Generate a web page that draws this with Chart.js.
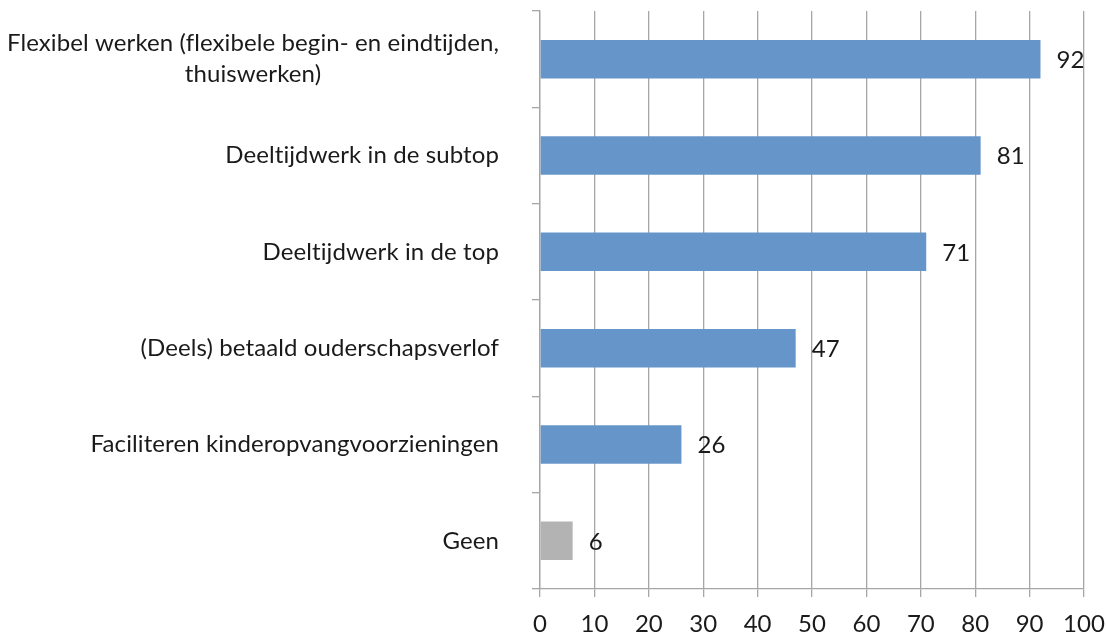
<!DOCTYPE html>
<html>
<head>
<meta charset="utf-8">
<script src="https://cdn.jsdelivr.net/npm/chart.js@4"></script>
<style>
  html, body { margin: 0; padding: 0; background: #fff; }
  #wrap { width: 1106px; height: 635px; }
</style>
</head>
<body>
<div id="wrap"><canvas id="chartRegelingen"></canvas></div>
<script>
// data
const categories = [
    ['Flexibel werken (flexibele begin- en eindtijden,', 'thuiswerken)'],
    'Deeltijdwerk in de subtop',
    'Deeltijdwerk in de top',
    '(Deels) betaald ouderschapsverlof',
    'Faciliteren kinderopvangvoorzieningen',
    'Geen'
];
const values = [92, 81, 71, 47, 26, 6];
const xMin = 0;
const xMax = 100;
const xStep = 10;

const FONT = 'Lato';
const GRID = '#a6a6a6';

// category labels: lines centred on each other, block right-aligned
const labelPlugin = {
    id: 'labels',
    afterDraw(chart) {
        const ctx = chart.ctx;
        const y = chart.scales.y;
        const meta = chart.getDatasetMeta(0);
        ctx.save();
        ctx.font = '24px ' + FONT;
        ctx.letterSpacing = '0.1px'; // no "ti" ligature
        ctx.fillStyle = '#1a1a1a';
        ctx.textBaseline = 'middle';
        const right = 499;
        const lh = 31;
        categories.forEach(function(cat, i) {
            const lines = Array.isArray(cat) ? cat : [cat];
            const w = Math.max.apply(null, lines.map(function(l) { return ctx.measureText(l).width; }));
            const cx = right - w / 2;
            const cy = y.getPixelForValue(i);
            ctx.textAlign = 'center';
            lines.forEach(function(l, j) {
                ctx.fillText(l, cx, cy + (j - (lines.length - 1) / 2) * lh);
            });
            // value label right of the bar
            const bar = meta.data[i];
            ctx.textAlign = 'left';
            ctx.fillText(String(values[i]), bar.x + 16, cy + 1);
        });
        ctx.restore();
    }
};

document.addEventListener('DOMContentLoaded', function() {
    new Chart(document.getElementById('chartRegelingen').getContext('2d'), {
        type: 'bar',
        data: {
            labels: categories,
            datasets: [{
                data: values,
                backgroundColor: function(c) {
                    return c.dataIndex === categories.length - 1 ? '#b3b3b3' : '#6696c9';
                },
                categoryPercentage: 1,
                barPercentage: 0.4
            }]
        },
        options: {
            indexAxis: 'y',
            responsive: true,
            maintainAspectRatio: false,
            animation: false,
            layout: { padding: { top: 11, right: 22, left: 0, bottom: 0 } },
            plugins: { legend: { display: false }, tooltip: { enabled: false } },
            scales: {
                x: {
                    min: xMin,
                    max: xMax,
                    ticks: {
                        stepSize: xStep,
                        color: '#1a1a1a',
                        font: { family: FONT, size: 24 },
                        padding: 13
                    },
                    grid: { color: GRID, lineWidth: 1.3, tickLength: 8 },
                    border: { color: GRID, width: 1.3 },
                    afterFit: function(s) { s.height = 46; s.paddingRight = 0; s.paddingLeft = 0; }
                },
                y: {
                    ticks: { display: false },
                    grid: { color: GRID, lineWidth: 1.3, tickLength: 8, drawOnChartArea: false, offset: true },
                    border: { color: GRID, width: 1.3 },
                    afterFit: function(s) { s.width = 540; }
                }
            }
        },
        plugins: [labelPlugin]
    });
});
</script>
</body>
</html>
